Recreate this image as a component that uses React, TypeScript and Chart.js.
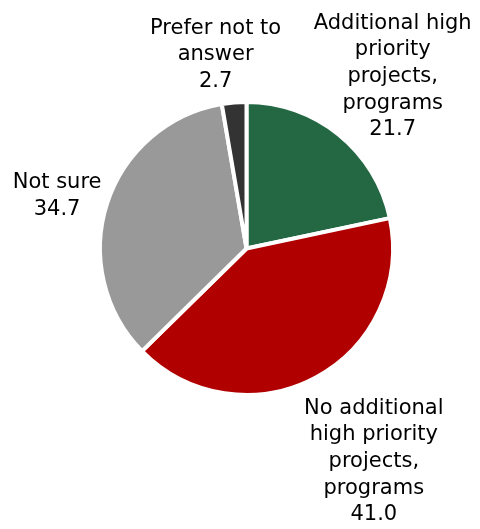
import React, { useEffect, useRef } from "react";
import { Chart, registerables } from "chart.js";

Chart.register(...registerables);

const categories: string[][] = [
  ["Additional high", "priority", "projects,", "programs"],
  ["No additional", "high priority", "projects,", "programs"],
  ["Not sure"],
  ["Prefer not to", "answer"],
];
const values: number[] = [21.7, 41.0, 34.7, 2.7];
const valueLabels: string[] = ["21.7", "41.0", "34.7", "2.7"];
const colors: string[] = ["#236843", "#b10000", "#999999", "#333333"];

// label block placement: offset of (block centre x, first baseline y) from the slice's outer edge midpoint
const labelOffsets: [number, number][] = [
  [54, -106],
  [58, 36],
  [-50, -15],
  [-18.5, -69],
];

const FONT = "21px 'DejaVu Sans'";
const LINE_STEP = 26.7;

const labelPlugin = {
  id: "outsideLabels",
  afterDatasetsDraw(chart: any) {
    const ctx = chart.ctx;
    const meta = chart.getDatasetMeta(0);
    ctx.save();
    ctx.font = FONT;
    ctx.fillStyle = "#000000";
    ctx.textAlign = "center";
    ctx.textBaseline = "alphabetic";
    meta.data.forEach((arc: any, i: number) => {
      const p = arc.getProps(["x", "y", "startAngle", "endAngle", "outerRadius"], true);
      const mid = (p.startAngle + p.endAngle) / 2;
      const ex = p.x + Math.cos(mid) * p.outerRadius;
      const ey = p.y + Math.sin(mid) * p.outerRadius;
      const [dx, dy] = labelOffsets[i];
      const lines = [...categories[i], valueLabels[i]];
      lines.forEach((line, j) => {
        ctx.fillText(line, ex + dx, ey + dy + j * LINE_STEP);
      });
    });
    ctx.restore();
  },
};

export default function App() {
  const canvasRef = useRef<HTMLCanvasElement | null>(null);

  useEffect(() => {
    if (!canvasRef.current) return;
    const chart = new Chart(canvasRef.current, {
      type: "pie",
      data: {
        labels: categories.map((c) => c.join(" ")),
        datasets: [
          {
            data: values,
            backgroundColor: colors,
            borderColor: "#ffffff",
            borderWidth: 4,
          },
        ],
      },
      options: {
        responsive: false,
        animation: false,
        layout: { padding: { left: 98, right: 85, top: 100, bottom: 132 } },
        plugins: {
          legend: { display: false },
          tooltip: { enabled: false },
        },
      },
      plugins: [labelPlugin],
    });
    return () => chart.destroy();
  }, []);

  return (
    <div style={{ position: "absolute", left: 0, top: 0, width: 480, height: 529, background: "#ffffff" }}>
      <canvas ref={canvasRef} width={480} height={529} style={{ display: "block" }} />
    </div>
  );
}
